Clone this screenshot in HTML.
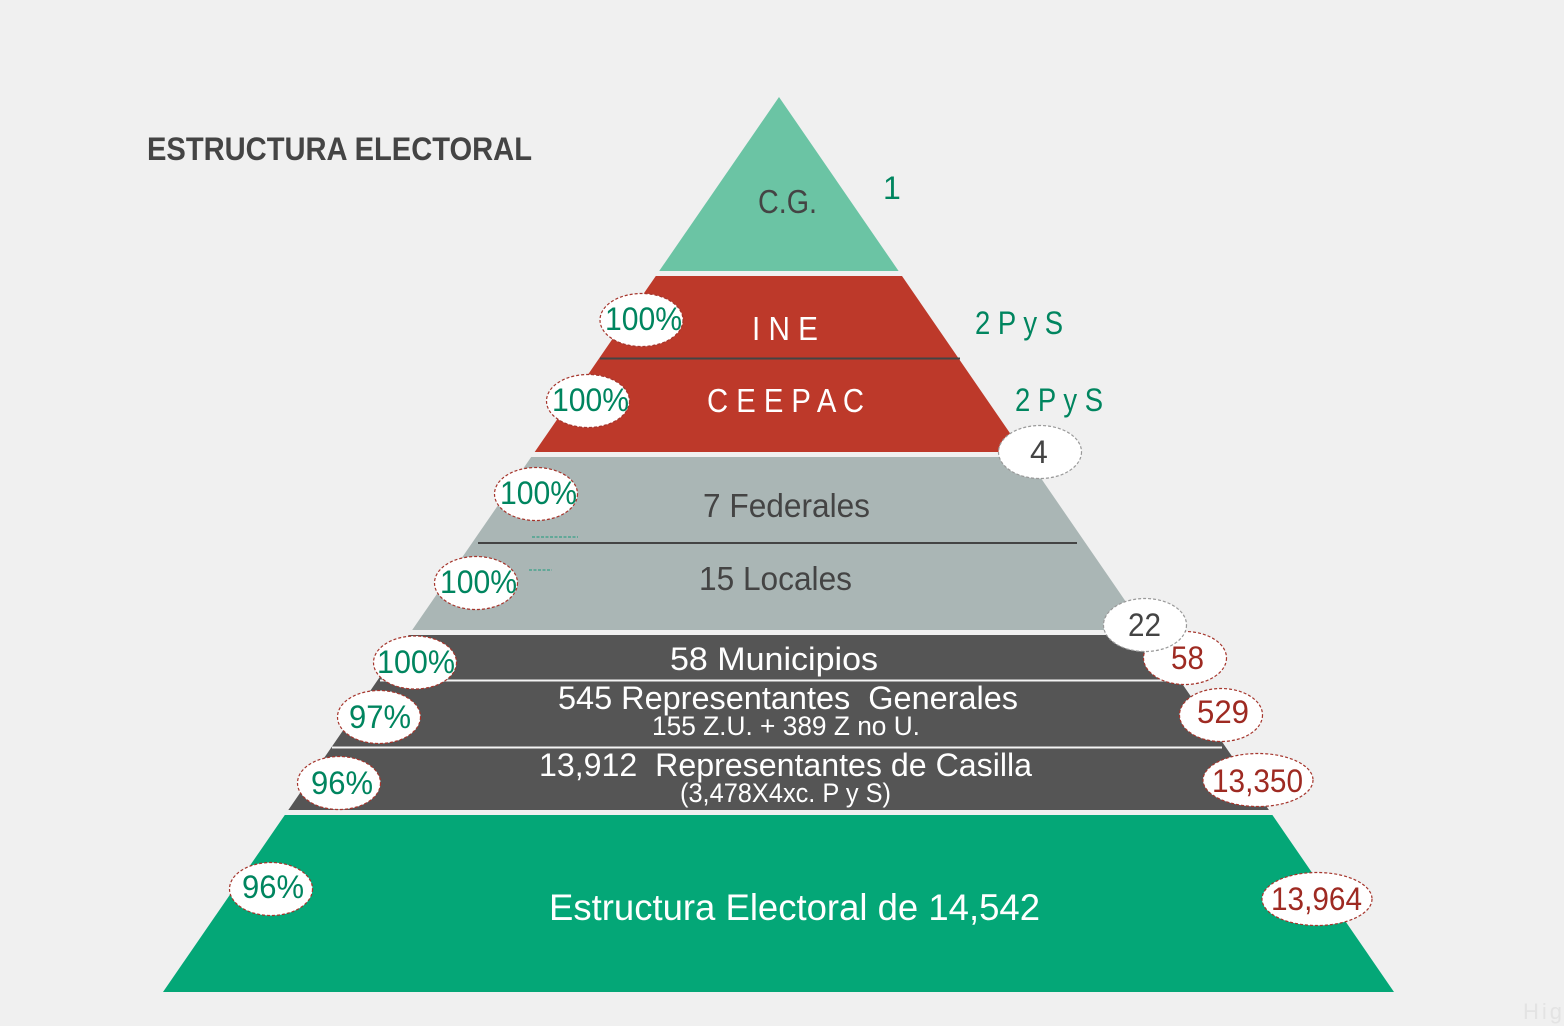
<!DOCTYPE html>
<html lang="es">
<head>
<meta charset="utf-8">
<title>Estructura Electoral</title>
<style>
html,body{margin:0;padding:0;background:#f0f0f0;width:1564px;height:1026px;overflow:hidden}
svg{display:block}
text{font-family:"Liberation Sans",sans-serif}
.g{fill:#00855f}
.r{fill:#9e2a22}
.d{fill:#444}
.w{fill:#fff}
.br{fill:#fff;stroke:#a5352c;stroke-width:1.2;stroke-dasharray:3 2}
.bg{fill:#fff;stroke:#999;stroke-width:1.2;stroke-dasharray:3 2}
</style>
</head>
<body>
<svg width="1564" height="1026" viewBox="0 0 1564 1026" xmlns="http://www.w3.org/2000/svg">
<rect x="0" y="0" width="1564" height="1026" fill="#f0f0f0"/>
<g id="tiers"></g>

<line x1="600" y1="358.5" x2="960" y2="358.5" stroke="#444" stroke-width="2"/>
<line x1="478" y1="543" x2="1077" y2="543" stroke="#444" stroke-width="2"/>
<line x1="380" y1="680.5" x2="1178" y2="680.5" stroke="#f4f4f4" stroke-width="2"/>
<line x1="332" y1="747.5" x2="1222" y2="747.5" stroke="#f4f4f4" stroke-width="2"/>
<line x1="532" y1="537" x2="578" y2="537" stroke="#1a9a7a" stroke-width="1" stroke-dasharray="3 1.5"/>
<line x1="529" y1="570" x2="552" y2="570" stroke="#1a9a7a" stroke-width="1" stroke-dasharray="3 1.5"/>

<text x="147" y="160" font-size="32" font-weight="700" class="d" textLength="385" lengthAdjust="spacingAndGlyphs">ESTRUCTURA ELECTORAL</text>

<text x="758" y="213" font-size="33" class="d" textLength="59" lengthAdjust="spacingAndGlyphs">C.G.</text>
<text x="752" y="340" font-size="33" class="w" textLength="66" lengthAdjust="spacingAndGlyphs">I N E</text>
<text x="707" y="412" font-size="33" class="w" textLength="157" lengthAdjust="spacingAndGlyphs">C E E P A C</text>
<text x="703" y="517" font-size="33" class="d" textLength="167" lengthAdjust="spacingAndGlyphs">7 Federales</text>
<text x="699" y="590" font-size="33" class="d" textLength="153" lengthAdjust="spacingAndGlyphs">15 Locales</text>
<text x="670" y="670" font-size="32" class="w" textLength="208" lengthAdjust="spacingAndGlyphs">58 Municipios</text>
<text x="558" y="709" font-size="32" class="w" textLength="460" lengthAdjust="spacingAndGlyphs">545 Representantes&#160; Generales</text>
<text x="652" y="735" font-size="27" class="w" textLength="268" lengthAdjust="spacingAndGlyphs">155 Z.U. + 389 Z no U.</text>
<text x="539" y="776" font-size="32" class="w" textLength="493" lengthAdjust="spacingAndGlyphs">13,912&#160; Representantes de Casilla</text>
<text x="680" y="802" font-size="27" class="w" textLength="211" lengthAdjust="spacingAndGlyphs">(3,478X4xc. P y S)</text>
<text x="549" y="920" font-size="37" class="w" textLength="491" lengthAdjust="spacingAndGlyphs">Estructura Electoral de 14,542</text>

<text x="883" y="199" font-size="32" class="g">1</text>
<text x="975" y="334" font-size="32" class="g" textLength="88" lengthAdjust="spacingAndGlyphs">2 P y S</text>
<text x="1015" y="411" font-size="32" class="g" textLength="88" lengthAdjust="spacingAndGlyphs">2 P y S</text>

<g>
<ellipse cx="641.5" cy="320" rx="41.5" ry="26.5" class="br"/>
<text x="605" y="330" font-size="32" class="g" textLength="77" lengthAdjust="spacingAndGlyphs">100%</text>
</g>
<g>
<ellipse cx="588" cy="401" rx="41.5" ry="26.5" class="br"/>
<text x="552" y="411" font-size="32" class="g" textLength="77" lengthAdjust="spacingAndGlyphs">100%</text>
</g>
<g>
<ellipse cx="536" cy="494" rx="41.5" ry="26.5" class="br"/>
<text x="500" y="504" font-size="32" class="g" textLength="77" lengthAdjust="spacingAndGlyphs">100%</text>
</g>
<g>
<ellipse cx="476" cy="583" rx="41.5" ry="26.5" class="br"/>
<text x="440" y="593" font-size="32" class="g" textLength="77" lengthAdjust="spacingAndGlyphs">100%</text>
</g>
<g>
<ellipse cx="415" cy="662.5" rx="41.5" ry="26.5" class="br"/>
<text x="377" y="673" font-size="32" class="g" textLength="78" lengthAdjust="spacingAndGlyphs">100%</text>
</g>
<g>
<ellipse cx="379" cy="717" rx="41.5" ry="26.5" class="br"/>
<text x="349" y="728" font-size="32" class="g" textLength="62" lengthAdjust="spacingAndGlyphs">97%</text>
</g>
<g>
<ellipse cx="339" cy="783" rx="41.5" ry="26.5" class="br"/>
<text x="311" y="794" font-size="32" class="g" textLength="62" lengthAdjust="spacingAndGlyphs">96%</text>
</g>
<g>
<ellipse cx="271" cy="889" rx="41.5" ry="26.5" class="br"/>
<text x="242" y="898" font-size="32" class="g" textLength="62" lengthAdjust="spacingAndGlyphs">96%</text>
</g>

<g>
<ellipse cx="1040" cy="452" rx="41.5" ry="26.5" class="bg"/>
<text x="1030" y="463" font-size="32" class="d">4</text>
</g>
<g>
<ellipse cx="1185" cy="658" rx="41.5" ry="26.5" class="br"/>
<text x="1171" y="669" font-size="32" class="r" textLength="33" lengthAdjust="spacingAndGlyphs">58</text>
</g>
<g>
<ellipse cx="1145" cy="625" rx="41.5" ry="26.5" class="bg"/>
<text x="1128" y="636" font-size="32" class="d" textLength="33" lengthAdjust="spacingAndGlyphs">22</text>
</g>
<g>
<ellipse cx="1221" cy="715" rx="41.5" ry="26.5" class="br"/>
<text x="1197" y="723" font-size="32" class="r" textLength="52" lengthAdjust="spacingAndGlyphs">529</text>
</g>
<g>
<ellipse cx="1258" cy="780" rx="55" ry="26.5" class="br"/>
<text x="1212" y="792" font-size="32" class="r" textLength="91" lengthAdjust="spacingAndGlyphs">13,350</text>
</g>
<g>
<ellipse cx="1317" cy="899" rx="55" ry="26.5" class="br"/>
<text x="1271" y="910" font-size="32" class="r" textLength="91" lengthAdjust="spacingAndGlyphs">13,964</text>
</g>

<text x="1523" y="1019" font-size="22" fill="#e3e3e3" letter-spacing="3">Hig</text>
</svg>
<script>
// Relative height of each pyramid tier, top to bottom.
var tierNames = ['cg', 'ine-ceepac', 'consejos', 'representantes', 'estructura'];
var tierShares = [174, 176, 173, 175, 177];
var tierColors = ['#6bc4a4', '#bd392a', '#aab6b5', '#555555', '#04a777'];

var apexX = 779, apexY = 97, baseY = 992, baseLeft = 163, baseRight = 1394, tierGap = 5;
var totalShare = tierShares.reduce(function (a, b) { return a + b; }, 0);
var usableHeight = baseY - apexY - tierGap * (tierShares.length - 1);

function yScale(shareSoFar, index) {
  return apexY + shareSoFar / totalShare * usableHeight + index * tierGap;
}
function leftEdge(y) {
  return apexX - (y - apexY) / (baseY - apexY) * (apexX - baseLeft);
}
function rightEdge(y) {
  return apexX + (y - apexY) / (baseY - apexY) * (baseRight - apexX);
}

var tiersGroup = document.getElementById('tiers');
var svgNS = 'http://www.w3.org/2000/svg';
var cumulative = 0;
tierShares.forEach(function (share, i) {
  var top = yScale(cumulative, i);
  var bottom = yScale(cumulative + share, i);
  cumulative += share;
  var points = [
    [leftEdge(top), top],
    [rightEdge(top), top],
    [rightEdge(bottom), bottom],
    [leftEdge(bottom), bottom]
  ].map(function (p) { return p[0].toFixed(1) + ',' + p[1].toFixed(1); }).join(' ');
  var poly = document.createElementNS(svgNS, 'polygon');
  poly.setAttribute('points', points);
  poly.setAttribute('fill', tierColors[i]);
  
  
  tiersGroup.appendChild(poly);
});
</script>
</body>
</html>
